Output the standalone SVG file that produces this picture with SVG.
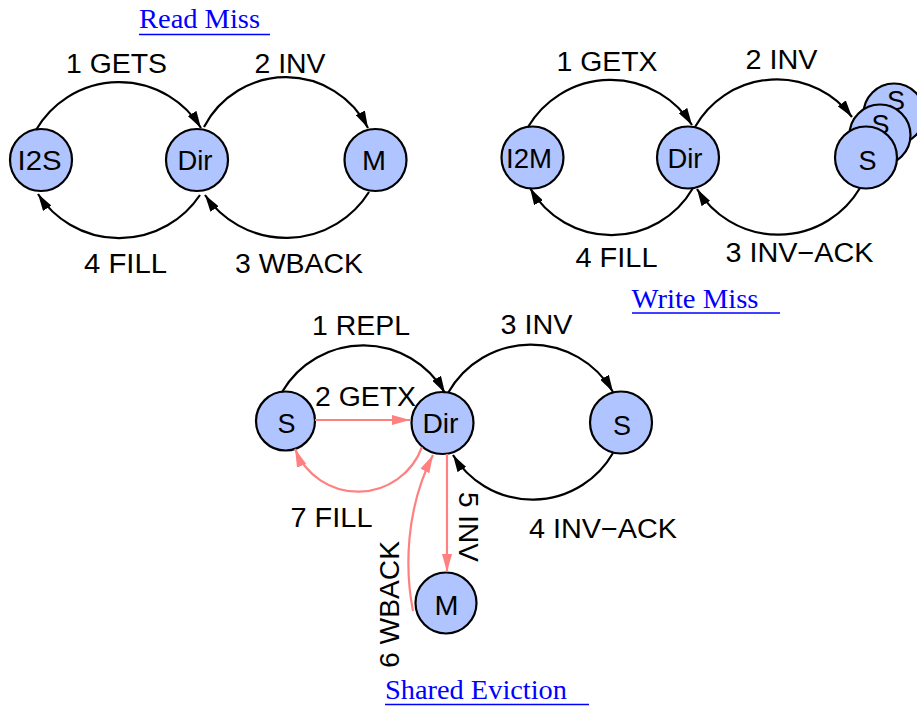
<svg xmlns="http://www.w3.org/2000/svg" width="917" height="706" viewBox="0 0 917 706">
  <style>
    .node { fill: #b0c4ff; stroke: #000; stroke-width: 2.2; }
    .lbl { font-family: "Liberation Sans", Arial, sans-serif; font-size: 27px; fill: #000; }
    .nl { text-anchor: middle; }
    .title { font-family: "Liberation Serif", "Times New Roman", serif; font-size: 27px; fill: #0000ff; }
    .uline { stroke: #0000ff; stroke-width: 1.6; }
    .arc { fill: none; stroke: #000; stroke-width: 2.2; marker-end: url(#ah); }
    .red { fill: none; stroke: #ff8080; stroke-width: 2.2; marker-end: url(#ahr); }
  </style>
  <defs>
    <marker id="ah" viewBox="0 0 17 10" refX="17" refY="5" markerWidth="17" markerHeight="10" markerUnits="userSpaceOnUse" orient="auto">
      <path d="M0,0 L17,5 L0,10 z" fill="#000"/>
    </marker>
    <marker id="ahr" viewBox="0 0 18 10" refX="18" refY="5" markerWidth="18" markerHeight="10" markerUnits="userSpaceOnUse" orient="auto">
      <path d="M0,0 L18,5 L0,10 z" fill="#ff8080"/>
    </marker>
  </defs>

  <!-- Titles -->
  <g id="titles">
    <text class="title" x="139" y="28" textLength="121" lengthAdjust="spacingAndGlyphs">Read Miss</text>
    <line class="uline" x1="139" y1="34.5" x2="270" y2="34.5"/>
    <text class="title" x="631.5" y="308" textLength="127" lengthAdjust="spacingAndGlyphs">Write Miss</text>
    <line class="uline" x1="632" y1="313" x2="780" y2="313"/>
    <text class="title" x="385" y="699" textLength="182" lengthAdjust="spacingAndGlyphs">Shared Eviction</text>
    <line class="uline" x1="385" y1="704.5" x2="589" y2="704.5"/>
  </g>

  <!-- Read Miss nodes -->
  <g id="rm-i2s"><circle class="node" cx="41" cy="160" r="31"/><text class="lbl nl" x="39.5" y="170" textLength="44" lengthAdjust="spacingAndGlyphs">I2S</text></g>
  <g id="rm-dir"><circle class="node" cx="197" cy="160" r="31"/><text class="lbl nl" x="195" y="170" textLength="35" lengthAdjust="spacingAndGlyphs">Dir</text></g>
  <g id="rm-m"><circle class="node" cx="375.5" cy="160" r="31"/><text class="lbl nl" x="374" y="170" textLength="24" lengthAdjust="spacingAndGlyphs">M</text></g>

  <!-- Write Miss nodes -->
  <g id="wm-i2m"><circle class="node" cx="532.5" cy="157.5" r="31"/><text class="lbl nl" x="529" y="168" textLength="46" lengthAdjust="spacingAndGlyphs">I2M</text></g>
  <g id="wm-dir"><circle class="node" cx="688" cy="157.5" r="31"/><text class="lbl nl" x="685" y="168" textLength="35" lengthAdjust="spacingAndGlyphs">Dir</text></g>
  <g id="wm-s3"><circle class="node" cx="894" cy="114" r="30.5"/><text class="lbl nl" x="896" y="110" textLength="18" lengthAdjust="spacingAndGlyphs">S</text></g>
  <g id="wm-s2"><circle class="node" cx="880" cy="135" r="30.5"/><text class="lbl nl" x="880.5" y="134" textLength="18" lengthAdjust="spacingAndGlyphs">S</text></g>
  <g id="wm-s1"><circle class="node" cx="866" cy="157.5" r="31"/><text class="lbl nl" x="867.5" y="170" textLength="18" lengthAdjust="spacingAndGlyphs">S</text></g>

  <!-- Shared Eviction nodes -->
  <g id="se-s"><circle class="node" cx="285.5" cy="421" r="29.5"/><text class="lbl nl" x="286.5" y="433" textLength="18" lengthAdjust="spacingAndGlyphs">S</text></g>
  <g id="se-dir"><circle class="node" cx="442.5" cy="423" r="31"/><text class="lbl nl" x="440.5" y="433" textLength="36" lengthAdjust="spacingAndGlyphs">Dir</text></g>
  <g id="se-s2"><circle class="node" cx="621" cy="422.5" r="31"/><text class="lbl nl" x="622" y="435" textLength="18" lengthAdjust="spacingAndGlyphs">S</text></g>
  <g id="se-m"><circle class="node" cx="446" cy="603" r="30.5"/><text class="lbl nl" x="446.5" y="615" textLength="24" lengthAdjust="spacingAndGlyphs">M</text></g>

  <!-- Connectors -->
  <g id="connectors">
    <!-- Read Miss -->
    <path class="arc" d="M36,130 A96,96 0 0 1 201,128"/>
    <path class="arc" d="M204,127 A92,92 0 0 1 368,128"/>
    <path class="arc" d="M200,195 A97,97 0 0 1 38,194"/>
    <path class="arc" d="M369,192 A98,98 0 0 1 205,195"/>
    <!-- Write Miss -->
    <path class="arc" d="M528,127 A96,96 0 0 1 692,125"/>
    <path class="arc" d="M695,127 A94,94 0 0 1 852,117"/>
    <path class="arc" d="M693,188 A94,94 0 0 1 530,188"/>
    <path class="arc" d="M860,188 A95,95 0 0 1 697,189"/>
    <!-- Shared Eviction -->
    <path class="arc" d="M282,392 A94,94 0 0 1 445,393"/>
    <path class="arc" d="M448,393 A95,95 0 0 1 613,392"/>
    <path class="arc" d="M613,453 A93,93 0 0 1 453,455"/>
    <path class="red" d="M315,420 L410,420"/>
    <path class="red" d="M422,447 A68,68 0 0 1 295,449"/>
    <path class="red" d="M447,454 L447,572"/>
    <path class="red" d="M413,611 C405,570 405,510 433,455"/>
  </g>

  <!-- Connector labels -->
  <g id="labels">
    <text class="lbl" x="66" y="73" textLength="101" lengthAdjust="spacingAndGlyphs">1 GETS</text>
    <text class="lbl" x="254.5" y="73" textLength="71" lengthAdjust="spacingAndGlyphs">2 INV</text>
    <text class="lbl" x="84" y="273" textLength="83" lengthAdjust="spacingAndGlyphs">4 FILL</text>
    <text class="lbl" x="235" y="273" textLength="128" lengthAdjust="spacingAndGlyphs">3 WBACK</text>

    <text class="lbl" x="556.5" y="71" textLength="101" lengthAdjust="spacingAndGlyphs">1 GETX</text>
    <text class="lbl" x="745.5" y="69" textLength="72" lengthAdjust="spacingAndGlyphs">2 INV</text>
    <text class="lbl" x="575.5" y="267" textLength="82" lengthAdjust="spacingAndGlyphs">4 FILL</text>
    <text class="lbl" x="725.5" y="262" textLength="148" lengthAdjust="spacingAndGlyphs">3 INV−ACK</text>

    <text class="lbl" x="312" y="335" textLength="98" lengthAdjust="spacingAndGlyphs">1 REPL</text>
    <text class="lbl" x="315" y="406" textLength="101" lengthAdjust="spacingAndGlyphs">2 GETX</text>
    <text class="lbl" x="500.5" y="334" textLength="72" lengthAdjust="spacingAndGlyphs">3 INV</text>
    <text class="lbl" x="290.5" y="527" textLength="82" lengthAdjust="spacingAndGlyphs">7 FILL</text>
    <text class="lbl" x="529" y="538" textLength="148" lengthAdjust="spacingAndGlyphs">4 INV−ACK</text>
    <text class="lbl" transform="translate(458.5,492) rotate(90)" x="0" y="0" textLength="70" lengthAdjust="spacingAndGlyphs">5 INV</text>
    <text class="lbl" transform="translate(398.5,668) rotate(-90)" x="0" y="0" textLength="127" lengthAdjust="spacingAndGlyphs">6 WBACK</text>
  </g>
</svg>
